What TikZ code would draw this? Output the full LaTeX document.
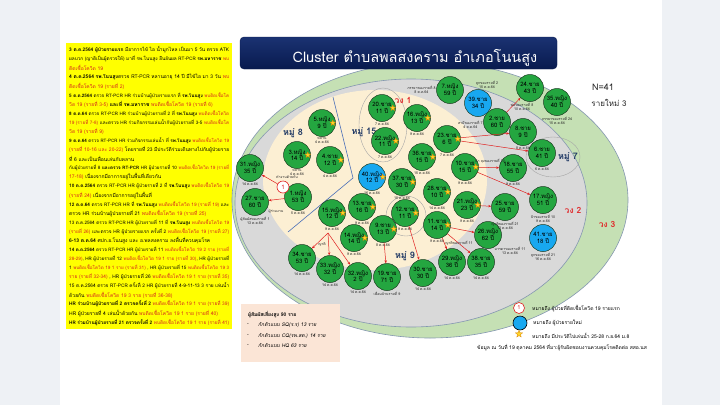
\documentclass[tikz,border=0pt]{standalone}
\usepackage{fontspec}
\usepackage{graphicx}
\setmainfont{Loma}[Script=Thai]
\usetikzlibrary{shapes.geometric,arrows.meta,calc,positioning}
\definecolor{sidebg}{HTML}{EEF1F5}
\definecolor{ybox}{HTML}{FFFF00}
\definecolor{yred}{HTML}{D42A1E}
\definecolor{ring3}{HTML}{C5E0B4}
\definecolor{ring2}{HTML}{D9D9D9}
\definecolor{ring1}{HTML}{FCEFD3}
\definecolor{ringline}{HTML}{8497B0}
\definecolor{casegreen}{HTML}{24A640}
\definecolor{caseblue}{HTML}{18A8F0}
\definecolor{caseline}{HTML}{1B3A20}
\definecolor{navyA}{HTML}{1B3272}
\definecolor{navyB}{HTML}{081A4E}
\definecolor{mooblue}{HTML}{1F3864}
\definecolor{wongred}{HTML}{E0282A}
\definecolor{arrred}{HTML}{E02020}
\definecolor{staryellow}{HTML}{FFD42A}
\definecolor{starorange}{HTML}{D98200}
\definecolor{peach}{HTML}{FBE5D6}
\definecolor{lineblue}{HTML}{4A6FB8}
\definecolor{grpline}{HTML}{A6A6A6}
\newsavebox\lnbox
\newcommand\fitln[1]{\sbox\lnbox{#1}\ifdim\wd\lnbox>160pt\resizebox{160pt}{!}{\usebox\lnbox}\else\usebox\lnbox\fi}
\newcommand\Rd[1]{\textcolor{yred}{#1}}
\newcommand\yl[2]{\node[yline] (yl#1) at (69,{50+9.07*#1}) {\fitln{#2}};}
\tikzset{
  yline/.style={anchor=west, inner sep=0pt, font=\fontsize{5}{6}\selectfont, text=black},
  case/.style={circle, draw=caseline, line width=0.5pt, fill=casegreen, minimum size=27pt, inner sep=0pt, align=center, font=\fontsize{6}{6.8}\selectfont, text=black},
  casenew/.style={case, fill=caseblue},
  note/.style={font=\fontsize{3.6}{4.3}\selectfont, align=center, inner sep=0.4pt, text=black!85},
  starm/.style={star, star points=5, star point ratio=2.3, fill=staryellow, draw=starorange, line width=0.3pt, minimum size=6pt, inner sep=0pt},
  mooname/.style={font=\bfseries\fontsize{9}{10}\selectfont, text=mooblue, inner sep=0pt},
  wong/.style={font=\bfseries\fontsize{8.5}{10}\selectfont, text=wongred, inner sep=0pt},
  redarr/.style={draw=arrred, line width=0.5pt, -{Stealth[length=3pt,width=2.4pt]}},
  grp/.style={draw=grpline, line width=0.4pt},
  legtext/.style={anchor=west, font=\fontsize{5}{6}\selectfont, inner sep=0pt},
  peachtext/.style={anchor=west, font=\fontsize{5}{6}\selectfont, inner sep=0pt}
}
\begin{document}
\begin{tikzpicture}[x=1pt,y=-1pt]
\useasboundingbox (0,0) rectangle (720,405);
\fill[sidebg] (0,0) rectangle (720,405);
\fill[white] (60,0) rectangle (662,405);
% yellow timeline box
\fill[ybox] (66,43) rectangle (232,329);
\yl{0}{\textbf{3 ต.ค.2564 ผู้ป่วยรายแรก} มีอาการไข้ ไอ น้ำมูกไหล เป็นมา 5 วัน ตรวจ ATK}
\yl{1}{ผลบวก (ญาติเป็นผู้ตรวจให้) มาที่ รพ.โนนสูง ยืนยันผล RT-PCR \textbf{รพ.มหาราช} \Rd{พบ}}
\yl{2}{\Rd{ติดเชื้อโควิด 19}}
\yl{3}{\textbf{4 ต.ค.2564 รพ.โนนสูง}ตรวจ RT-PCR หลานอายุ 14 ปี มีไข้ไอ มา 3 วัน \Rd{พบ}}
\yl{4}{\Rd{ติดเชื้อโควิด 19 (รายที่ 2)}}
\yl{5}{\textbf{5 ต.ค.2564} ตรวจ RT-PCR HR ร่วมบ้านผู้ป่วยรายแรก ที่ \textbf{รพ.โนนสูง} \Rd{พบติดเชื้อโค}}
\yl{6}{\Rd{วิด 19 (รายที่ 3-5)} \textbf{และที่ รพ.มหาราช} \Rd{พบติดเชื้อโควิด 19 (รายที่ 6)}}
\yl{7}{\textbf{8 ต.ค.64} ตรวจ RT-PCR HR ร่วมบ้านผู้ป่วยรายที่ 2 ที่ \textbf{รพ.โนนสูง} \Rd{พบติดเชื้อโควิด}}
\yl{8}{\Rd{19 (รายที่ 7-8)} และตรวจ HR ร่วมกิจกรรมเล่นน้ำกับผู้ป่วยรายที่ 3-5 \Rd{พบติดเชื้อโค}}
\yl{9}{\Rd{วิด 19 (รายที่ 9)}}
\yl{10}{\textbf{9 ต.ค.64} ตรวจ RT-PCR HR ร่วมกิจกรรมเล่นน้ำ ที่ \textbf{รพ.โนนสูง} \Rd{พบติดเชื้อโควิด 19}}
\yl{11}{\Rd{(รายที่ 10-16 และ 20-22)} โดยรายที่ 23 มีประวัติร่วมเดินทางไปกับผู้ป่วยราย}
\yl{12}{ที่ 6 และเป็นเพื่อนเล่นกับหลาน}
\yl{13}{กับผู้ป่วยรายที่ 8 \textbf{และตรวจ RT-PCR} HR ผู้ป่วยรายที่ 10 \Rd{พบติดเชื้อโควิด 19 (รายที่}}
\yl{14}{\Rd{17-18)} เนื่องจากมีอาการอยู่ในพื้นที่เดียวกัน}
\yl{15}{\textbf{10 ต.ค.2564} ตรวจ RT-PCR HR ผู้ป่วยรายที่ 2 ที่ \textbf{รพ.โนนสูง} \Rd{พบติดเชื้อโควิด 19}}
\yl{16}{\Rd{(รายที่ 24)} เนื่องจากมีอาการอยู่ในพื้นที่}
\yl{17}{\textbf{12 ต.ค.64} ตรวจ RT-PCR HR ที่ \textbf{รพ.โนนสูง} \Rd{พบติดเชื้อโควิด 19 (รายที่ 19)} และ}
\yl{18}{ตรวจ HR ร่วมบ้านผู้ป่วยรายที่ 21 \Rd{พบติดเชื้อโควิด 19 (รายที่ 25)}}
\yl{19}{13 ต.ค.2564 ตรวจ RT-PCR HR ผู้ป่วยรายที่ 11 ที่ \textbf{รพ.โนนสูง} \Rd{พบติดเชื้อโควิด 19}}
\yl{20}{\Rd{(รายที่ 26)} และตรวจ HR ผู้ป่วยรายแรก ครั้งที่ 2 \Rd{พบติดเชื้อโควิด 19 (รายที่ 27)}}
\yl{21}{\textbf{6-13 ต.ค.64} ศปก.อ.โนนสูง และ อ.พลสงคราม ลงพื้นที่ควบคุมโรค}
\yl{22}{\textbf{14 ต.ค.2564} ตรวจ RT-PCR HR ผู้ป่วยรายที่ 11 \Rd{พบติดเชื้อโควิด 19 2 ราย (รายที่}}
\yl{23}{\Rd{28-29)}, HR ผู้ป่วยรายที่ 12 \Rd{พบติดเชื้อโควิด 19 1 ราย (รายที่ 30)}, HR ผู้ป่วยรายที่}
\yl{24}{1 \Rd{พบติดเชื้อโควิด 19 1 ราย (รายที่ 31)} , HR ผู้ป่วยรายที่ 15 \Rd{พบติดเชื้อโควิด 19 3}}
\yl{25}{\Rd{ราย (รายที่ 32-34)} , HR ผู้ป่วยรายที่ 26 \Rd{พบติดเชื้อโควิด 19 1 ราย (รายที่ 35)}}
\yl{26}{15 ต.ค.2564 ตรวจ RT-PCR ครั้งที่ 2 HR ผู้ป่วยรายที่ 4-9-11-13 3 ราย เล่นน้ำ}
\yl{27}{ด้วยกัน \Rd{พบติดเชื้อโควิด 19 3 ราย (รายที่ 36-38)}}
\yl{28}{\textbf{HR ร่วมบ้านผู้ป่วยรายที่ 2 ตรวจครั้งที่ 2} \Rd{พบติดเชื้อโควิด 19 1 ราย (รายที่ 39)}}
\yl{29}{HR ผู้ป่วยรายที่ 4 เล่นน้ำด้วยกัน \Rd{พบติดเชื้อโควิด 19 1 ราย (รายที่ 40)}}
\yl{30}{\textbf{HR ร่วมบ้านผู้ป่วยรายที่ 21 ตรวจครั้งที่ 2} \Rd{พบติดเชื้อโควิด 19 1 ราย (รายที่ 41)}}
% rings
\filldraw[fill=ring3, draw=ringline, line width=0.6pt] (430,200) ellipse [x radius=198, y radius=138];
\filldraw[fill=ring2, draw=ringline, line width=0.6pt] (411,203) ellipse [x radius=176, y radius=124];
\fill[ring1] (375,180) ellipse [x radius=112, y radius=90];
% title
\node[rounded corners=4pt, minimum width=317pt, minimum height=32pt, top color=navyA, bottom color=navyB, draw=navyB] (title) at (398.5,53) {};
\node[text=white, font=\fontsize{14.5}{16}\selectfont, inner sep=0pt] (titletext) at (415,58) {Cluster ตำบลพลสงคราม อำเภอโนนสูง};
% group outlines and village boundary
\draw[grp] (383,125) ellipse [x radius=24, y radius=37];
\draw[grp] (406,216) circle [radius=20];
\draw[grp] (553,157) ellipse [x radius=27, y radius=20];
\coordinate (b1) at (333,97);
\coordinate (b2) at (353,178);
\coordinate (b3) at (288,232);
\draw[lineblue, line width=0.6pt] (b1) -- (b2) -- (b3);
% labels
\node[mooname] (m8) at (293,133) {หมู่ 8};
\node[mooname] (m15) at (364,132) {หมู่ 15};
\node[mooname] (m7) at (568,157) {หมู่ 7};
\node[mooname] (m9) at (405,256) {หมู่ 9};
\node[wong] (w1) at (403,100) {วง 1};
\node[wong] (w2) at (573,210) {วง 2};
\node[wong] (w3) at (607,224) {วง 3};
\node[font=\fontsize{9}{10}\selectfont, text=black!85, inner sep=0pt] (nn) at (603,87) {N=41};
\node[font=\fontsize{8}{10}\selectfont, text=black!85, inner sep=0pt] (nnew) at (609,103) {รายใหม่ 3};
% cases
\foreach \n/\x/\y/\sx/\ag in {
1/298/197/หญิง/53, 2/497/122/ชาย/60, 3/297/155/หญิง/14, 4/330/160/ชาย/12, 5/322/123/หญิง/9,
6/542/153/ชาย/41, 7/450/90/หญิง/59, 8/523/132/ชาย/9, 9/383/229/ชาย/13, 10/465/167/ชาย/15,
11/437/225/ชาย/14, 12/405/213/ชาย/11, 13/362/207/ชาย/16, 14/354/238/หญิง/14, 15/332/213/หญิง/12,
16/417/118/หญิง/13, 17/543/200/หญิง/51, 18/513/168/ชาย/55, 19/387/277/ชาย/71, 20/382/108/ชาย/11,
21/467/205/หญิง/23, 22/385/141/หญิง/11, 23/447/139/ชาย/6, 24/530/88/ชาย/43, 25/505/207/ชาย/59,
26/488/235/หญิง/62, 27/255/202/ชาย/60, 28/437/192/ชาย/10, 29/452/262/หญิง/36, 30/423/273/ชาย/30,
31/250/168/หญิง/35, 32/358/276/หญิง/2, 33/330/269/หญิง/32, 34/302/258/ชาย/53, 35/557/102/หญิง/40,
36/422/157/ชาย/15, 37/402/182/ชาย/30, 38/481/262/ชาย/35}
  \node[case] (c\n) at (\x,\y) {\n.\sx\\\ag\ ปี};
\foreach \n/\x/\y/\sx/\ag in {39/478/103/ชาย/34, 40/372/177/หญิง/12, 41/543/238/ชาย/18}
  \node[casenew] (c\n) at (\x,\y) {\n.\sx\\\ag\ ปี};
% arrows
\node[circle, draw=arrred, line width=0.6pt, fill=white, minimum size=12pt, inner sep=0pt, text=arrred, font=\fontsize{6}{7}\selectfont] (m1) at (283,187) {1};
\coordinate (f15) at (328,233);
\draw[redarr] (m1) -- (c31);
\draw[redarr] (c1) -- (c27);
\draw[redarr] (f15) -- (c34);
\draw[redarr] (f15) -- (c33);
\draw[redarr] (f15) -- (c32);
\draw[redarr] (c9) -- (c19);
\draw[redarr] (c2) -- (c24);
\draw[redarr] (c23) -- (c8);
\draw[redarr] (c23) -- (c6);
\draw[redarr] (c10) -- (c18);
\draw[redarr] (c10) -- (c17);
\draw[redarr] (c21) -- (c25);
\draw[redarr] (c11) -- (c26);
\draw[redarr] (c11) -- (c29);
\draw[redarr] (c11) -- (c38);
\draw[redarr] (c12) -- (c30);
% stars
\foreach \n in {3,4,5,9,10,11,12,13,14,15,16,20,21,22,23,28,36,37,40}
  \node[starm] at ($(c\n.east)+(-3,0)$) {};
% date notes
\foreach \n/\t in {1/5 ต.ค.64, 3/{หลาน\\4 ต.ค.64}, 4/4 ต.ค.64, 5/{หลาน\\4 ต.ค.64}, 6/6 ต.ค.64, 8/8 ต.ค.64,
  9/8 ต.ค.64, 10/9 ต.ค.64, 11/9 ต.ค.64, 12/9 ต.ค.64, 13/9 ต.ค.64, 14/9 ต.ค.64, 15/9 ต.ค.64, 16/9 ต.ค.64,
  17/{ป้าของรายที่ 10\\9 ต.ค.64}, 18/9 ต.ค.64, 19/เพื่อนบ้านรายที่ 9, 20/7 ต.ค.64, 21/9 ต.ค.64, 22/7 ต.ค.64,
  23/7 ต.ค.64, 25/{ญาติของรายที่ 21\\13 ต.ค.64},
  27/{ผู้สัมผัสของรายที่ 1\\13 ต.ค.64}, 28/14 ต.ค.64, 29/14 ต.ค.64, 30/14 ต.ค.64, 31/14 ต.ค.64,
  32/14 ต.ค.64, 33/14 ต.ค.64, 34/14 ต.ค.64, 35/{ภรรยาของรายที่ 24\\15 ต.ค.64}, 36/15 ต.ค.64,
  37/15 ต.ค.64, 38/14 ต.ค.64, 40/16 ต.ค.64, 41/{ลูกของรายที่ 21\\16 ต.ค.64}}
  \node[note, below=0.3pt of c\n] {\t};
\node[note] (n26) at (510,251) {มารดาของรายที่ 11\\13 ต.ค.64};
\node[note, anchor=east] (n7) at (c7.west) {ภรรยาของรายที่ 8\\8 ต.ค.64};
\node[note, anchor=north east] (n2) at ($(c2.west)+(0,-2)$) {สามีของรายที่ 7\\4 ต.ค.64};
\node[note, anchor=north, xshift=-8pt] (n24) at (c24.south) {พ่อของรายที่ 8\\10 ต.ค.64};
\node[note, anchor=south, xshift=9pt] (n39) at (c39.north) {ลูกของรายที่ 2\\15 ต.ค.64};
\node[note] (a31) at (287,177) {ทำงานด้วยกัน};
\node[note] (a27) at (276,211) {ผู้ร่วมงาน};
\node[note] (a15) at (322,244) {ญาติ};
\node[note] (a10) at (490,161) {ป้า ลุงของรายที่ 10};
\node[note] (a11) at (459,243) {ญาติของรายที่ 11};
% legend
\node[circle, draw=arrred, line width=0.6pt, fill=white, minimum size=11pt, inner sep=0pt, text=arrred, font=\fontsize{5.5}{6}\selectfont] (lg1) at (519,308) {1};
\node[legtext] (lt1) at (532,308) {หมายถึง ผู้ป่วยที่ติดเชื้อโควิด 19 รายแรก};
\node[circle, draw=black, line width=0.6pt, fill=caseblue, minimum size=14pt, inner sep=0pt] (lg2) at (520,323) {};
\node[legtext] (lt2) at (533,323) {หมายถึง ผู้ป่วยรายใหม่};
\node[starm, minimum size=7.5pt] (lg3) at (519,334) {};
\node[legtext] (lt3) at (532,336) {หมายถึง มีประวัติไปเล่นน้ำ 25-28 ก.ย.64 ม.8};
\node[anchor=east, font=\fontsize{5}{6}\selectfont, inner sep=0pt] (foot) at (647,348) {ข้อมูล ณ วันที่ 19 ตุลาคม 2564 ที่มา:ผู้รับผิดชอบงานควบคุมโรคติดต่อ สสอ.นส};
% contacts box
\fill[peach] (241,304) rectangle (340,362);
\node[peachtext] (p0) at (248,315) {\textbf{ผู้สัมผัสเสี่ยงสูง 90 ราย}};
\node[peachtext] (p1) at (247,325) {-};
\node[peachtext] (p1t) at (258,325) {\itshape กักตัวแบบ SQ(ร.ร) 13 ราย};
\node[peachtext] (p2) at (247,336) {-};
\node[peachtext] (p2t) at (258,336) {\itshape กักตัวแบบ CQ(รพ.สต.) 14 ราย};
\node[peachtext] (p3) at (247,346) {-};
\node[peachtext] (p3t) at (258,346) {\itshape กักตัวแบบ HQ 63 ราย};
\end{tikzpicture}
\end{document}
